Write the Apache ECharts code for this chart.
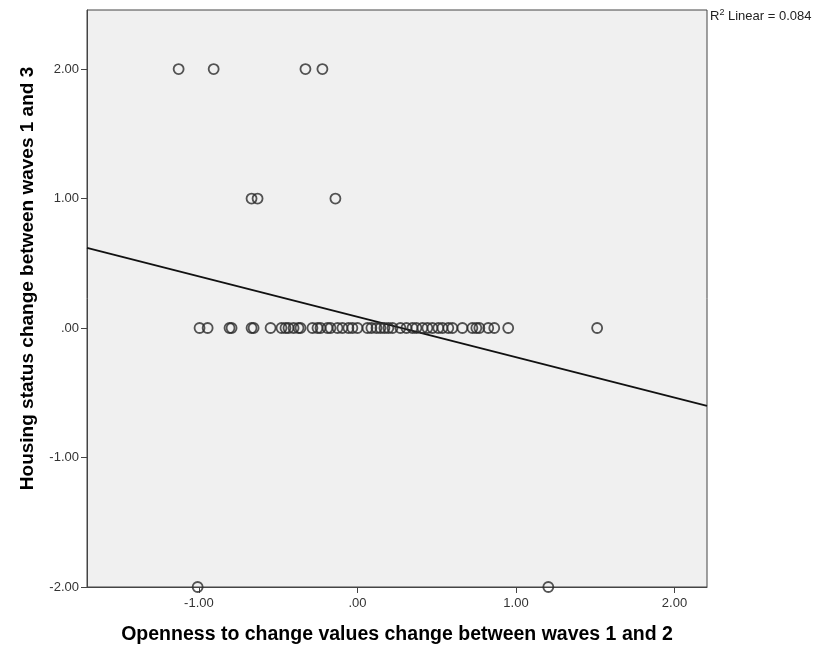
<!DOCTYPE html>
<html><head><meta charset="utf-8">
<script src="https://cdn.jsdelivr.net/npm/echarts@6/dist/echarts.min.js"></script>
<style>html,body{margin:0;padding:0;background:#fff}#c{width:819px;height:650px}</style>
</head><body><div id="c"></div>
<script>
// Data
const zeroX = [-0.996,-0.945,-0.807,-0.794,-0.668,-0.655,-0.548,-0.479,-0.454,-0.435,-0.403,-0.372,-0.359,
  -0.284,-0.252,-0.233,-0.189,-0.170,-0.126,-0.095,-0.057,-0.032,0.000,0.063,0.088,0.120,0.145,0.170,0.195,
  0.221,0.271,0.309,0.347,0.372,0.410,0.441,0.473,0.510,0.536,0.573,0.599,0.662,0.725,0.750,0.769,0.825,
  0.863,0.951,1.512];
const twoX = [-1.128,-0.907,-0.328,-0.221];
const oneX = [-0.668,-0.630,-0.139];
const minusTwoX = [-1.008,1.204];
const xTicks = [-1,0,1,2];
const yTicks = [-2,-1,0,1,2];
const fitIntercept = 0.086;
const fitSlope = -0.312;
const r2 = '0.084';
const xMin = -1.706, xMax = 2.205, yMin = -2.0, yMax = 2.456;

const points = [];
zeroX.forEach(x => points.push([x, 0]));
twoX.forEach(x => points.push([x, 2]));
oneX.forEach(x => points.push([x, 1]));
minusTwoX.forEach(x => points.push([x, -2]));
const fitLine = [[xMin, fitIntercept + fitSlope * xMin], [xMax, fitIntercept + fitSlope * xMax]];

const fmt = v => { const s = Math.abs(v).toFixed(2); const t = s.startsWith('0') ? s.slice(1) : s; return (v < 0 ? '-' : '') + t; };

const chart = echarts.init(document.getElementById('c'));
chart.setOption({
  animation: false,
  grid: { left: 87, top: 10, width: 620, height: 578, show: true, backgroundColor: '#f0f0f0', borderColor: '#444', borderWidth: 1 },
  xAxis: {
    type: 'value', min: xMin, max: xMax,
    name: 'Openness to change values change between waves 1 and 2',
    nameLocation: 'middle', nameGap: 38,
    nameTextStyle: { fontFamily: 'Liberation Sans', fontWeight: 'bold', fontSize: 19.5, color: '#000' },
    axisLine: { show: true, onZero: false, lineStyle: { color: '#444', width: 1 } },
    axisTick: { show: true, length: 6, lineStyle: { color: '#444' }, customValues: xTicks },
    axisLabel: { customValues: xTicks, formatter: fmt, fontFamily: 'Liberation Sans', fontSize: 13, color: '#333', margin: 10 },
    splitLine: { show: false }
  },
  yAxis: {
    type: 'value', min: yMin, max: yMax,
    name: 'Housing status change between waves 1 and 3',
    nameLocation: 'middle', nameGap: 50,
    nameTextStyle: { fontFamily: 'Liberation Sans', fontWeight: 'bold', fontSize: 19, color: '#000', padding: [0, 0, 0, 40] },
    axisLine: { show: true, onZero: false, lineStyle: { color: '#444', width: 1 } },
    axisTick: { show: true, length: 6, lineStyle: { color: '#444' }, customValues: yTicks },
    axisLabel: { customValues: yTicks, formatter: fmt, fontFamily: 'Liberation Sans', fontSize: 13, color: '#333', margin: 8 },
    splitLine: { show: false }
  },
  series: [
    { type: 'line', data: fitLine, symbol: 'none', lineStyle: { color: '#111', width: 1.8 }, silent: true, z: 2 },
    { type: 'scatter', data: points, symbol: 'circle', symbolSize: 10,
      itemStyle: { color: 'rgba(0,0,0,0)', borderColor: '#2a2a2a', borderWidth: 1.8 }, z: 3 }
  ],
  graphic: [{
    type: 'text', left: 710, top: 8,
    style: {
      text: '{a|R}{s|2}{a| Linear = ' + r2 + '}',
      rich: {
        a: { fontFamily: 'Liberation Sans', fontSize: 13, fill: '#222', verticalAlign: 'bottom' },
        s: { fontFamily: 'Liberation Sans', fontSize: 9, fill: '#222', verticalAlign: 'top', padding: [0,0,6,0] }
      }
    }
  }]
});
</script></body></html>
